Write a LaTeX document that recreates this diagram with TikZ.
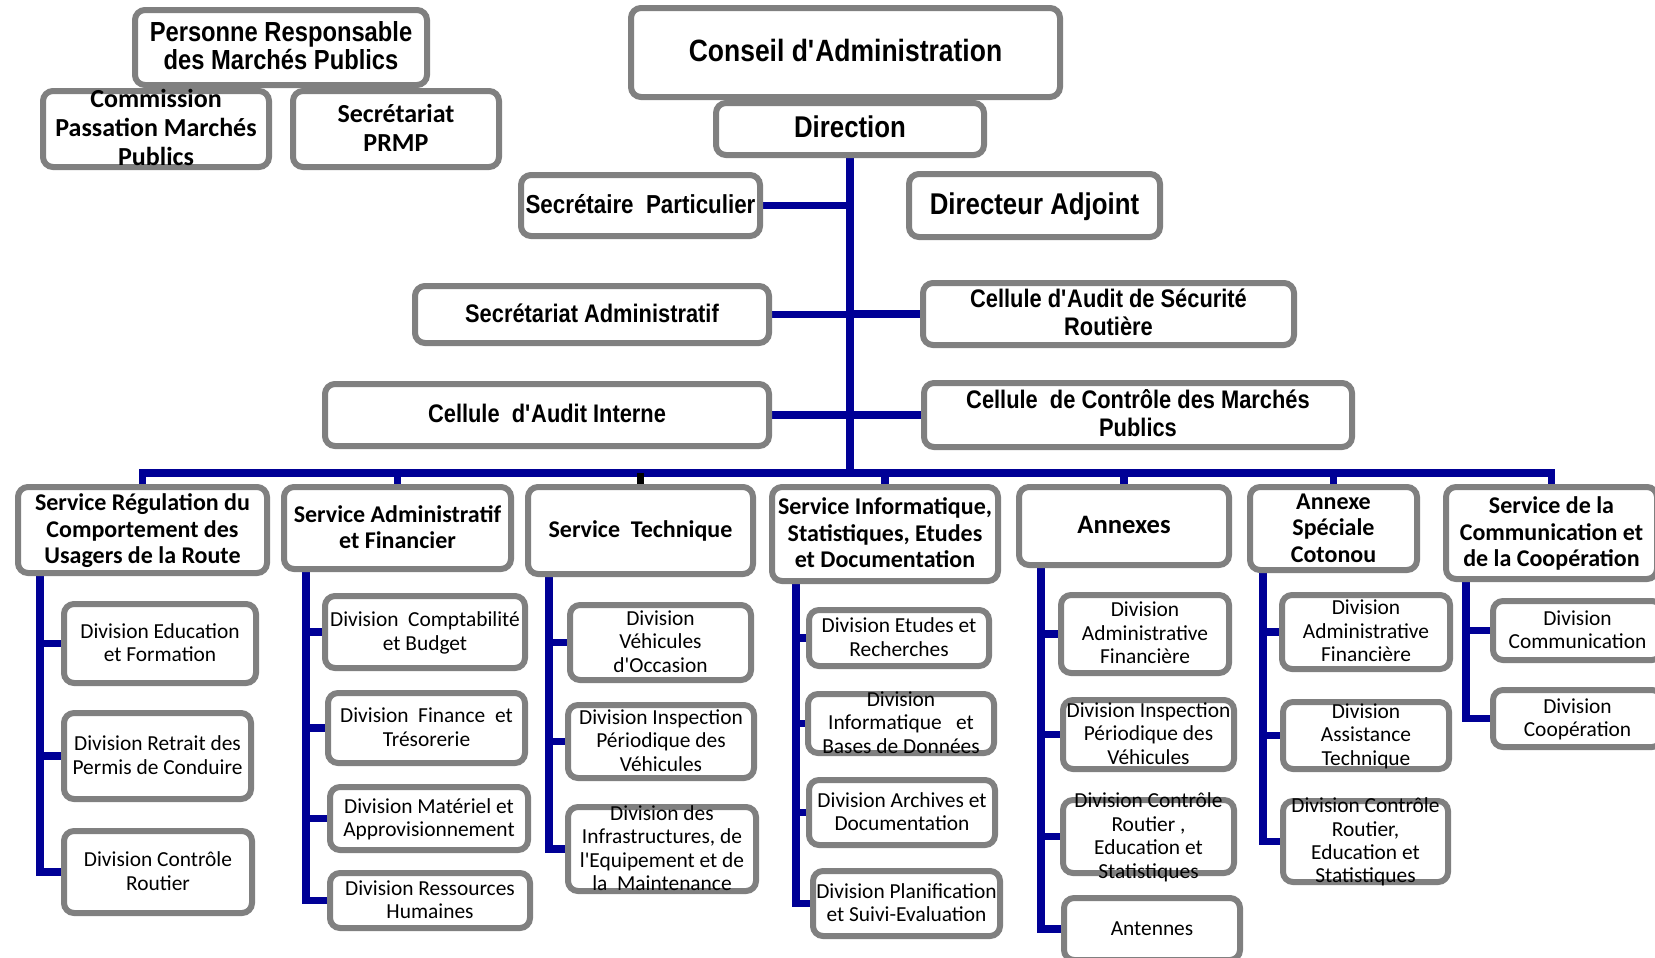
\documentclass[tikz,border=0pt]{standalone}
\usepackage{fontspec}
\setmainfont{Carlito}
\newfontfamily\narrowfont[FakeStretch=0.86]{Liberation Sans}
\usetikzlibrary{backgrounds}
\definecolor{boxgrey}{RGB}{128,128,128}
\definecolor{linkblue}{RGB}{0,0,150}
\newsavebox\orgtextbox
\newcommand{\orgtext}[1]{%
  \sbox\orgtextbox{\begin{tabular}{@{}c@{}}#1\end{tabular}}%
  \makebox[0pt]{\raisebox{\dimexpr(\dp\orgtextbox-\ht\orgtextbox)/2-0.08em\relax}[0pt][0pt]{\usebox\orgtextbox}}}
\newcommand{\apo}{\textquotesingle}

\begin{document}
\begin{tikzpicture}[x=0.5pt, y=-0.5pt,
    orgbox/.style={draw=boxgrey, line width=3pt, rounded corners=5pt, fill=white, inner sep=0pt},
    headbox/.style 2 args={orgbox, font=\narrowfont\bfseries\fontsize{#1}{#2}\selectfont},
    prmpbox/.style={orgbox, font=\bfseries\fontsize{13}{14.5}\selectfont},
    svcbox/.style={orgbox, font=\bfseries\fontsize{12}{13.2}\selectfont},
    divbox/.style={orgbox, font=\fontsize{10.7}{11.7}\selectfont},
    link/.style={draw=linkblue, line width=3.75pt}]
    \useasboundingbox (0,0) rectangle (1655,958);
    \clip (0,0) rectangle (1655,958);

    % procurement group, top left
    \node[headbox={13.8}{14}, minimum width=146pt, minimum height=37.5pt] (prmp) at (281,47.5) {\orgtext{Personne Responsable\\des Marchés Publics}};
    \node[prmpbox, minimum width=113pt, minimum height=38pt] (cpmp) at (156,129) {\orgtext{Commission\\Passation Marchés\\Publics}};
    \node[prmpbox, minimum width=103pt, minimum height=38pt] (sprmp) at (396,129) {\orgtext{Secrétariat\\PRMP}};

    % board and management
    \node[headbox={15.4}{16}, minimum width=214.5pt, minimum height=44.5pt] (ca) at (845.5,52.5) {\orgtext{Conseil d\apo Administration}};
    \node[headbox={15}{16}, minimum width=134pt, minimum height=26pt] (dir) at (850,129) {\orgtext{Direction}};
    \node[headbox={13}{14}, minimum width=119.5pt, minimum height=30.5pt] (sp) at (640.5,205.5) {\orgtext{Secrétaire\ \ Particulier}};
    \node[headbox={15}{16}, minimum width=125.5pt, minimum height=31.5pt] (da) at (1034.5,205.5) {\orgtext{Directeur Adjoint}};
    \node[headbox={12.7}{14.2}, minimum width=177pt, minimum height=28.5pt] (sa) at (592,314.5) {\orgtext{Secrétariat Administratif}};
    \node[headbox={12.7}{14.2}, minimum width=185.5pt, minimum height=31pt] (casr) at (1108.5,314) {\orgtext{Cellule d\apo Audit de Sécurité\\Routière}};
    \node[headbox={12.7}{14.2}, minimum width=222pt, minimum height=31pt] (cai) at (547,415) {\orgtext{Cellule\ \ d\apo Audit Interne}};
    \node[headbox={12.7}{14.2}, minimum width=214pt, minimum height=32pt] (ccmp) at (1138,415) {\orgtext{Cellule\ \ de Contrôle des Marchés\\Publics}};

    % services
    \node[svcbox, minimum width=124.5pt, minimum height=43pt] (svc1) at (142.5,530) {\orgtext{Service Régulation du\\Comportement des\\Usagers de la Route}};
    \node[svcbox, minimum width=113.5pt, minimum height=41pt] (svc2) at (397.5,528) {\orgtext{Service Administratif\\et Financier}};
    \node[svcbox, minimum width=112.5pt, minimum height=43.5pt] (svc3) at (640.5,530.5) {\orgtext{Service\ \ Technique}};
    \node[svcbox, minimum width=113pt, minimum height=47pt] (svc4) at (885,534) {\orgtext{Service Informatique,\\Statistiques, Etudes\\et Documentation}};
    \node[svcbox, font=\bfseries\fontsize{13.3}{14}\selectfont, minimum width=105pt, minimum height=39pt] (svc5) at (1124,526) {\orgtext{Annexes}};
    \node[svcbox, minimum width=83.5pt, minimum height=41.5pt] (svc6) at (1333.5,528.5) {\orgtext{Annexe\\Spéciale\\Cotonou}};
    \node[svcbox, minimum width=105.5pt, minimum height=46pt] (svc7) at (1551.5,533) {\orgtext{Service de la\\Communication et\\de la Coopération}};

    % divisions, one column per service
    \node[divbox, minimum width=96pt, minimum height=39.5pt] (d11) at (160,643.5) {\orgtext{Division Education\\et Formation}};
    \node[divbox, minimum width=93.5pt, minimum height=43pt] (d12) at (157.5,756) {\orgtext{Division Retrait des\\Permis de Conduire}};
    \node[divbox, minimum width=94pt, minimum height=41pt] (d13) at (158,872) {\orgtext{Division Contrôle\\Routier}};

    \node[divbox, minimum width=100pt, minimum height=36pt] (d21) at (425,632) {\orgtext{Division\ \ Comptabilité\\et Budget}};
    \node[divbox, minimum width=98.5pt, minimum height=35pt] (d22) at (426.5,728) {\orgtext{Division\ \ Finance\ \ et\\Trésorerie}};
    \node[divbox, minimum width=99pt, minimum height=31.5pt] (d23) at (429,818.5) {\orgtext{Division Matériel et\\Approvisionnement}};
    \node[divbox, minimum width=100pt, minimum height=27.5pt] (d24) at (430,900.5) {\orgtext{Division Ressources\\Humaines}};

    \node[divbox, minimum width=90.5pt, minimum height=37.5pt] (d31) at (660.5,642.5) {\orgtext{Division\\Véhicules\\d\apo Occasion}};
    \node[divbox, minimum width=93pt, minimum height=36.5pt] (d32) at (661,741.5) {\orgtext{Division Inspection\\Périodique des\\Véhicules}};
    \node[divbox, minimum width=94pt, minimum height=42pt] (d33) at (662,849) {\orgtext{Division des\\Infrastructures, de\\l\apo Equipement et de\\la\ \ Maintenance}};

    \node[divbox, minimum width=90pt, minimum height=28pt] (d41) at (899,638) {\orgtext{Division Etudes et\\Recherches}};
    \node[divbox, minimum width=93pt, minimum height=29.5pt] (d42) at (901,723.5) {\orgtext{Division\\Informatique\ \ \ et\\Bases de Données}};
    \node[divbox, minimum width=93pt, minimum height=32.5pt] (d43) at (902,812.5) {\orgtext{Division Archives et\\Documentation}};
    \node[divbox, minimum width=93.5pt, minimum height=32.5pt] (d44) at (906.5,903.5) {\orgtext{Division Planification\\et Suivi-Evaluation}};

    \node[divbox, minimum width=84pt, minimum height=39pt] (d51) at (1145,634) {\orgtext{Division\\Administrative\\Financière}};
    \node[divbox, minimum width=85.5pt, minimum height=34.5pt] (d52) at (1148.5,734.5) {\orgtext{Division Inspection\\Périodique des\\Véhicules}};
    \node[divbox, minimum width=85.5pt, minimum height=36.5pt] (d53) at (1148.5,836.5) {\orgtext{Division Contrôle\\Routier ,\\Education et\\Statistiques}};
    \node[divbox, minimum width=88pt, minimum height=31pt] (d54) at (1152,929) {\orgtext{Antennes}};

    \node[divbox, minimum width=84pt, minimum height=37pt] (d61) at (1366,632) {\orgtext{Division\\Administrative\\Financière}};
    \node[divbox, minimum width=83pt, minimum height=33.5pt] (d62) at (1366,735.5) {\orgtext{Division\\Assistance\\Technique}};
    \node[divbox, minimum width=82.5pt, minimum height=40.5pt] (d63) at (1365.5,841.5) {\orgtext{Division Contrôle\\Routier,\\Education et\\Statistiques}};

    \node[divbox, minimum width=84.5pt, minimum height=29.5pt] (d71) at (1577.5,630.5) {\orgtext{Division\\Communication}};
    \node[divbox, minimum width=84.5pt, minimum height=28.5pt] (d72) at (1577.5,718.5) {\orgtext{Division\\Coopération}};

    % connectors behind the boxes
    \begin{scope}[on background layer]
        \fill[white] (0,0) rectangle (1655,958);
        \coordinate (bus) at (850,473);
        \draw[link] (dir.south) -- (bus);
        \draw[link] (sp.east) -- (sp.east -| dir.south);
        \draw[link] (sa.east) -- (sa.east -| dir.south);
        \draw[link] (cai.east) -- (cai.east -| dir.south);
        \draw[link] (casr.west) -- (casr.west -| dir.south);
        \draw[link] (ccmp.west) -- (ccmp.west -| dir.south);

        % bus to the services
        \draw[link] (svc1.north) |- (bus) -| (svc7.north);
        \draw[link] (svc2.north) -- (svc2.north |- bus);
        \draw[link, draw=black] (svc3.north) -- (svc3.north |- bus);
        \draw[link] (svc4.north) -- (svc4.north |- bus);
        \draw[link] (svc5.north) -- (svc5.north |- bus);
        \draw[link] (svc6.north) -- (svc6.north |- bus);

        % spines down each column
        \coordinate (t1) at (40,0);
        \coordinate (t2) at (306,0);
        \coordinate (t3) at (549,0);
        \coordinate (t4) at (796,0);
        \coordinate (t5) at (1041,0);
        \coordinate (t6) at (1263,0);
        \coordinate (t7) at (1466,0);
        \draw[link] (t1 |- svc1.south) |- (d13.west);
        \draw[link] (d11.west) -- (d11.west -| t1);
        \draw[link] (d12.west) -- (d12.west -| t1);
        \draw[link] (t2 |- svc2.south) |- (d24.west);
        \draw[link] (d21.west) -- (d21.west -| t2);
        \draw[link] (d22.west) -- (d22.west -| t2);
        \draw[link] (d23.west) -- (d23.west -| t2);
        \draw[link] (t3 |- svc3.south) |- (d33.west);
        \draw[link] (d31.west) -- (d31.west -| t3);
        \draw[link] (d32.west) -- (d32.west -| t3);
        \draw[link] (t4 |- svc4.south) |- (d44.west);
        \draw[link] (d41.west) -- (d41.west -| t4);
        \draw[link] (d42.west) -- (d42.west -| t4);
        \draw[link] (d43.west) -- (d43.west -| t4);
        \draw[link] (t5 |- svc5.south) |- (d54.west);
        \draw[link] (d51.west) -- (d51.west -| t5);
        \draw[link] (d52.west) -- (d52.west -| t5);
        \draw[link] (d53.west) -- (d53.west -| t5);
        \draw[link] (t6 |- svc6.south) |- (d63.west);
        \draw[link] (d61.west) -- (d61.west -| t6);
        \draw[link] (d62.west) -- (d62.west -| t6);
        \draw[link] (t7 |- svc7.south) |- (d72.west);
        \draw[link] (d71.west) -- (d71.west -| t7);
    \end{scope}
\end{tikzpicture}
\end{document}
